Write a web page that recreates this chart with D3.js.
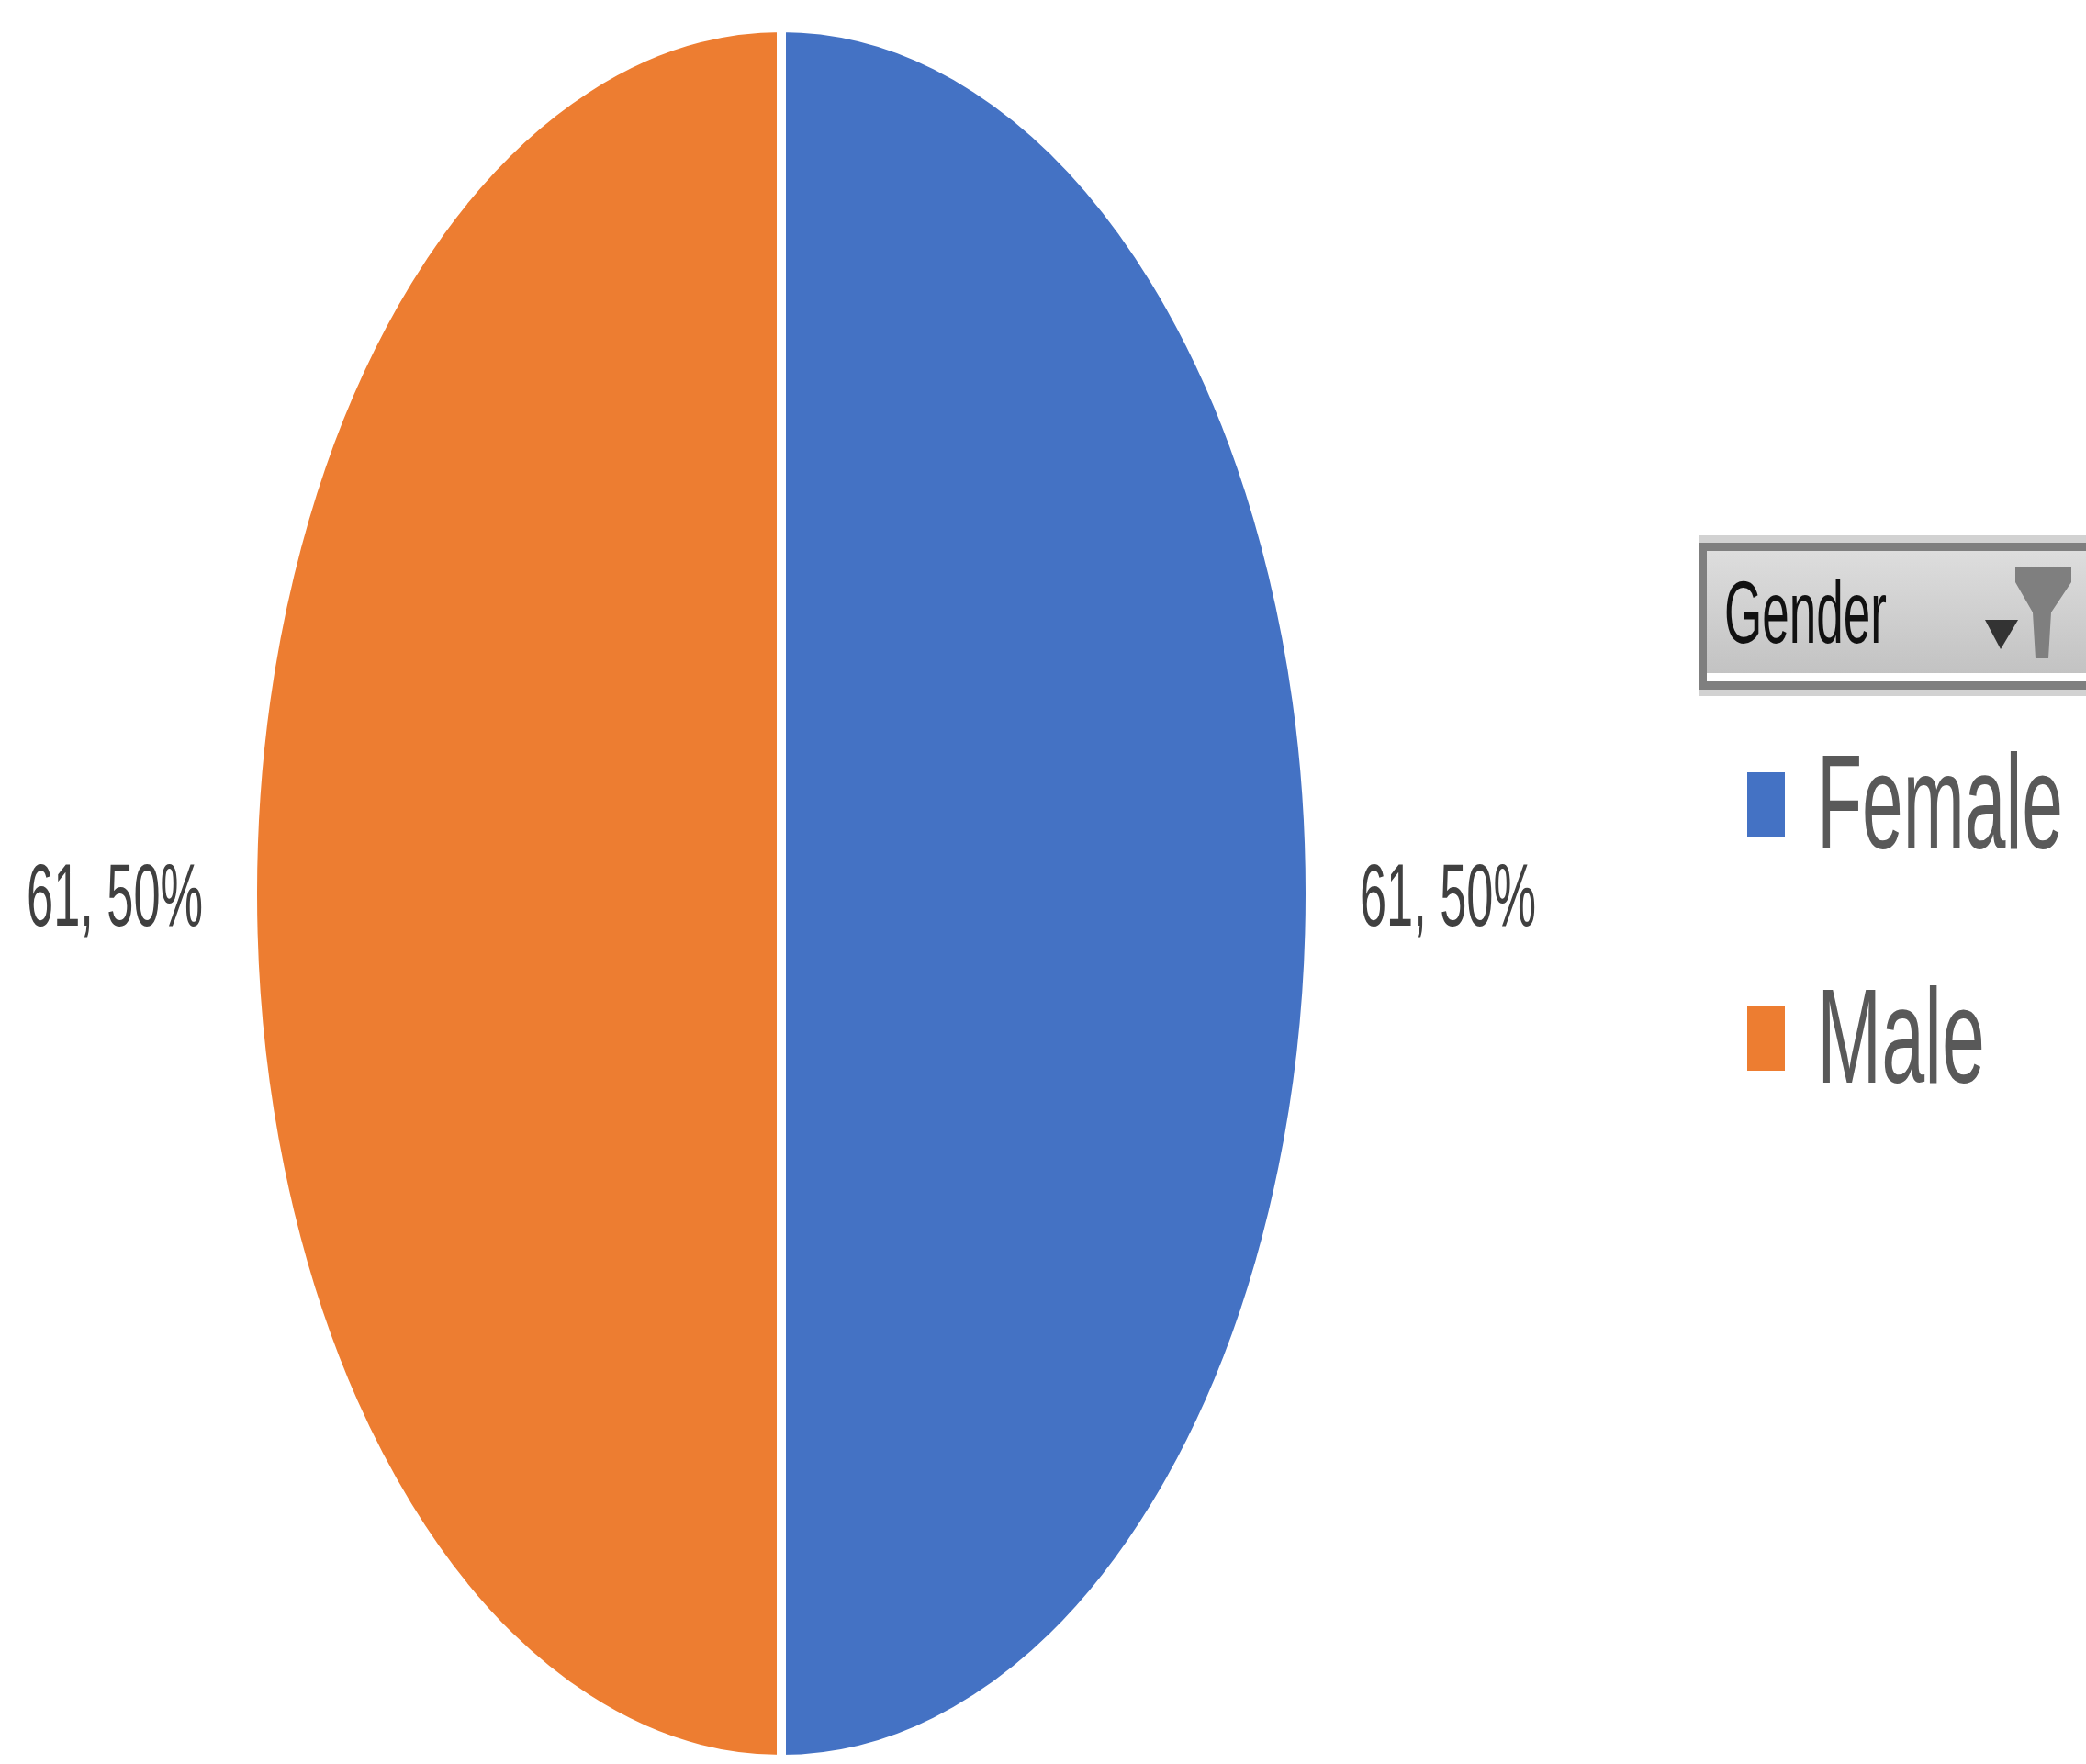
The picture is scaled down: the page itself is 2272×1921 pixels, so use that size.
<!DOCTYPE html>
<html>
<head>
<meta charset="utf-8">
<script src="https://cdn.jsdelivr.net/npm/d3@7"></script>
<style>
  body { margin: 0; background: #fff; }
  svg { display: block; }
</style>
</head>
<body>
<svg></svg>
<script>
// chart data
var categories = ['Female', 'Male'];
var values = [61, 61];
var legendTitle = 'Gender';

var width = 2272;
var height = 1921;

// pie is drawn as a circle and stretched into an ellipse
var cx = 851, cy = 973;
var rx = 576, ry = 943;
var font = '"Liberation Sans", Arial, sans-serif';

var color = d3.scaleOrdinal()
              .domain(categories)
              .range(['#4472C4', '#ED7D31']);

var svg = d3.select('svg')
            .attr('width', width)
            .attr('height', height);

// the source text is squeezed sideways, so squash each text to its width
function squeeze(sel, x, y, w, anchor) {
  sel.each(function(d, i) {
    var node = d3.select(this);
    var xx = typeof x === 'function' ? x(d, i) : x;
    var ww = typeof w === 'function' ? w(d, i) : w;
    var an = typeof anchor === 'function' ? anchor(d, i) : (anchor || 'start');
    node.attr('text-anchor', an).attr('x', 0).attr('y', 0);
    var sx = ww / this.getComputedTextLength();
    node.attr('transform', 'translate(' + xx + ',' + y + ') scale(' + sx + ',1)');
  });
}

var total = d3.sum(values);
var slices = d3.pie()
               .sort(null)
               .value(d => d.value)(categories.map((c, i) => ({name: c, value: values[i]})));

var arc = d3.arc()
            .innerRadius(0)
            .outerRadius(ry);

var pie = svg.append('g')
             .attr('transform', 'translate(' + cx + ',' + cy + ') scale(' + (rx / ry) + ',1)');

pie.selectAll('path')
    .data(slices)
  .enter()
  .append('path')
    .attr('d', arc)
    .attr('fill', d => color(d.data.name))
    .attr('stroke', '#fff')
    .attr('stroke-width', 10)
    .attr('vector-effect', 'non-scaling-stroke');

// data labels outside the slices
function side(d) {
  return Math.sin((d.startAngle + d.endAngle) / 2) >= 0 ? 1 : -1;
}

svg.selectAll('.label')
    .data(slices)
  .enter()
  .append('text')
    .classed('label', true)
    .style('font-family', font)
    .style('font-size', '96px')
    .attr('fill', '#404040')
    .text(d => d.data.value + ', ' + Math.round(d.data.value / total * 100) + '%')
    .call(squeeze,
          d => cx + side(d) * (rx - 5 + 59),
          cy + 35,
          192,
          d => side(d) > 0 ? 'start' : 'end');

// legend field button
var legend = svg.append('g');

var grad = svg.append('defs')
              .append('linearGradient')
              .attr('id', 'btn')
              .attr('x1', 0).attr('y1', 0).attr('x2', 0).attr('y2', 1);
grad.append('stop').attr('offset', '0%').attr('stop-color', '#dedede');
grad.append('stop').attr('offset', '100%').attr('stop-color', '#c0c0c0');

legend.append('rect')
    .attr('x', 1850).attr('y', 583)
    .attr('width', 440).attr('height', 175)
    .attr('fill', '#d2d2d2');

legend.append('rect')
    .attr('x', 1854.5).attr('y', 595.5)
    .attr('width', 440).attr('height', 151)
    .attr('fill', 'url(#btn)')
    .attr('stroke', '#7f7f7f')
    .attr('stroke-width', 9);

legend.append('rect')
    .attr('x', 1859).attr('y', 733)
    .attr('width', 420).attr('height', 9)
    .attr('fill', '#fff');

legend.append('text')
    .style('font-family', font)
    .style('font-size', '97px')
    .attr('fill', '#111')
    .text(legendTitle)
    .call(squeeze, 1878, 700, 177);

legend.append('path')
    .attr('d', 'M2162,675 L2198,675 L2179,707 Z')
    .attr('fill', '#333');

legend.append('path')
    .attr('d', 'M2195,617 L2256,617 L2256,634 L2234,667 L2231,717 L2217,717 L2214,667 L2195,634 Z')
    .attr('fill', '#7f7f7f');

// legend entries
var ly = d3.scalePoint()
           .domain(categories)
           .range([876, 1131]);

var items = legend.selectAll('.item')
    .data(categories)
  .enter()
  .append('g')
    .classed('item', true)
    .attr('transform', d => 'translate(0,' + ly(d) + ')');

items.append('rect')
    .attr('x', 1903).attr('y', -35)
    .attr('width', 41).attr('height', 70)
    .attr('fill', d => color(d));

items.append('text')
    .style('font-family', font)
    .style('font-size', '147px')
    .attr('fill', '#595959')
    .text(d => d)
    .call(squeeze, 1979, 48, d => d === 'Female' ? 268 : 183);
</script>
</body>
</html>
